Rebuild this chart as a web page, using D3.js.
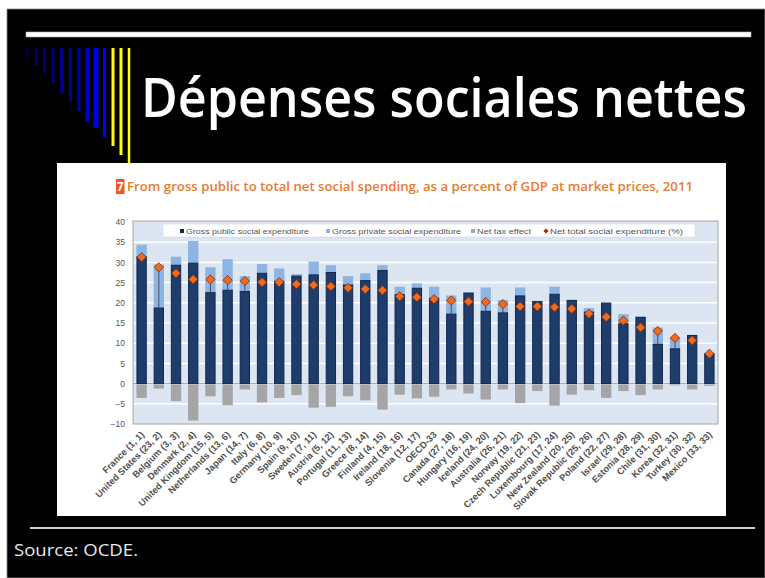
<!DOCTYPE html>
<html>
<head>
<meta charset="utf-8">
<script src="https://cdn.jsdelivr.net/npm/d3@7"></script>
<style>
  body { margin: 0; background: #fff; }
  svg { display: block; }
</style>
</head>
<body>
<svg id="slide"></svg>
<script>
// chart values (% of GDP, 2011)
const categories = [
    "France (1, 1)", "United States (23, 2)", "Belgium (3, 3)", "Denmark (2, 4)",
    "United Kingdom (15, 5)", "Netherlands (13, 6)", "Japan (14, 7)", "Italy (6, 8)",
    "Germany (10, 9)", "Spain (9, 10)", "Sweden (7, 11)", "Austria (5, 12)",
    "Portugal (11, 13)", "Greece (8, 14)", "Finland (4, 15)", "Ireland (18, 16)",
    "Slovenia (12, 17)", "OECD-33", "Canada (27, 18)", "Hungary (16, 19)",
    "Iceland (24, 20)", "Australia (26, 21)", "Norway (19, 22)", "Czech Republic (21, 23)",
    "Luxembourg (17, 24)", "New Zealand (20, 25)", "Slovak Republic (25, 26)", "Poland (22, 27)",
    "Israel (29, 28)", "Estonia (28, 29)", "Chile (31, 30)", "Korea (32, 31)",
    "Turkey (30, 32)", "Mexico (33, 33)"
];
const grossPublic = [31.4, 18.7, 29.3, 29.8, 22.5, 23.1, 22.8, 27.3, 25.3, 26.6, 26.9, 27.5,
    24.4, 25.5, 28.0, 22.0, 23.6, 21.1, 17.2, 22.4, 17.9, 17.5, 21.7, 20.3,
    22.1, 20.6, 17.7, 19.9, 14.8, 16.4, 9.7, 8.6, 11.9, 7.4];
const grossPrivate = [3.0, 10.8, 2.1, 5.5, 6.3, 7.7, 3.8, 2.3, 3.2, 0.5, 3.3, 1.8,
    2.2, 1.8, 1.3, 2.0, 1.2, 2.9, 4.6, 0.2, 5.9, 3.2, 2.1, 0.2,
    1.9, 0.1, 1.0, 0.2, 2.4, 0.2, 4.2, 2.9, 0.2, 0.2];
const netTax = [-3.3, -1.0, -4.1, -8.9, -2.9, -5.1, -1.2, -4.4, -3.3, -2.6, -5.7, -5.5,
    -2.9, -3.9, -6.2, -2.5, -3.4, -3.0, -1.2, -2.2, -3.7, -1.2, -4.6, -1.6,
    -5.2, -2.5, -1.4, -3.3, -1.6, -2.6, -1.2, -0.2, -1.2, -0.3];
const netTotal = [31.3, 28.8, 27.3, 25.8, 25.8, 25.6, 25.4, 25.1, 25.1, 24.6, 24.4, 24.1,
    23.7, 23.4, 23.1, 21.6, 21.4, 20.9, 20.6, 20.3, 20.2, 19.7, 19.1, 19.1,
    18.9, 18.5, 17.3, 16.5, 15.6, 13.9, 13.0, 11.3, 10.7, 7.4];
const yTicks = [-10, -5, 0, 5, 10, 15, 20, 25, 30, 35, 40];
const legendLabels = ["Gross public social expenditure", "Gross private social expenditure",
    "Net tax effect", "Net total social expenditure (%)"];

const colors = {
    pub: "#1e3c6c",
    pubEdge: "#12274a",
    priv: "#8db4e2",
    tax: "#a5a5a5",
    net: "#f26a1b",
    netEdge: "#8a3210",
    plotBg: "#dce6f2"
};

const W = 765, H = 578;
const svg = d3.select("#slide").attr("width", W).attr("height", H);

// slide background
svg.append("rect").attr("width", W).attr("height", H).attr("fill", "#fff");
svg.append("rect").attr("x", 7).attr("y", 9).attr("width", W - 7).attr("height", H - 9)
    .attr("fill", "#000").attr("stroke", "#8c8c8c").attr("stroke-width", 0.8);

svg.append("rect").attr("x", 26).attr("y", 32).attr("width", 725).attr("height", 5)
    .attr("fill", "#fff").attr("stroke", "#b0b0b0").attr("stroke-width", 0.6);

// decorative comb of blue / yellow lines
const deco = [
    [27.5, 2, 57, "#00005e"], [36, 2.5, 66, "#000068"], [44.5, 2.5, 73, "#000074"],
    [53, 2.5, 83, "#00007e"], [62, 4, 93, "#00008c"], [70.5, 3, 101, "#00009c"],
    [79, 3, 111, "#0000b4"], [87.5, 4, 121, "#0000cc"], [96, 5, 128, "#0000e4"],
    [104.5, 3, 137, "#0000ff"], [113, 3, 146, "#ffff00"], [121, 3, 155, "#ffff00"],
    [129, 2.5, 163, "#ffff00"]
];
svg.append("g").selectAll("line").data(deco).enter().append("line")
    .attr("x1", d => d[0]).attr("x2", d => d[0])
    .attr("y1", 48).attr("y2", d => d[2])
    .attr("stroke", d => d[3]).attr("stroke-width", d => d[1]);

// slide title, squeezed horizontally to the narrow look of the original
const title = svg.append("text")
    .attr("x", 0).attr("y", 0)
    .style("font-family", "'Open Sans', sans-serif").style("font-size", "54px")
    .style("font-weight", 600).attr("fill", "#fff")
    .text("Dépenses sociales nettes");
const natural = title.node().getComputedTextLength();
title.attr("transform", `translate(141,117) scale(${606 / natural},1)`);

// white panel holding the chart
svg.append("rect").attr("x", 57).attr("y", 163).attr("width", 669).attr("height", 353)
    .attr("fill", "#fff");

svg.append("line").attr("x1", 30).attr("x2", 755).attr("y1", 528).attr("y2", 528)
    .attr("stroke", "#cfcfcf").attr("stroke-width", 2);

svg.append("text")
    .attr("x", 14).attr("y", 556)
    .attr("textLength", 124).attr("lengthAdjust", "spacingAndGlyphs")
    .style("font-family", "'Open Sans', sans-serif").style("font-size", "16px")
    .attr("fill", "#e3e9f0")
    .text("Source: OCDE.");

// chart heading
svg.append("rect").attr("x", 116).attr("y", 179).attr("width", 8.5).attr("height", 15)
    .attr("fill", "#f0561e");
svg.append("text").attr("x", 120.2).attr("y", 191).attr("text-anchor", "middle")
    .style("font-family", "'Open Sans', sans-serif").style("font-size", "12px")
    .style("font-weight", 700).attr("fill", "#fff").text("7");
svg.append("text")
    .attr("x", 127).attr("y", 191)
    .attr("textLength", 566).attr("lengthAdjust", "spacingAndGlyphs")
    .style("font-family", "'Open Sans', sans-serif").style("font-size", "13px")
    .style("font-weight", 600).attr("fill", "#ea7a30")
    .text("From gross public to total net social spending, as a percent of GDP at market prices, 2011");

// plot
const plot = { left: 133, right: 718, top: 221, bottom: 424 };

const x = d3.scaleBand()
    .domain(categories)
    .range([plot.left, plot.right])
    .paddingInner(0.4)
    .paddingOuter(0.2);

const y = d3.scaleLinear()
    .domain([-10, 40])
    .range([plot.bottom, plot.top + 1]);

const chart = svg.append("g");

chart.append("rect")
    .attr("x", plot.left).attr("y", plot.top)
    .attr("width", plot.right - plot.left).attr("height", plot.bottom - plot.top)
    .attr("fill", colors.plotBg).attr("stroke", "#a6a6a6").attr("stroke-width", 1);

chart.append("g").selectAll("line").data(yTicks.filter(t => t > -10 && t < 40)).enter()
    .append("line")
    .attr("x1", plot.left + 1).attr("x2", plot.right - 1)
    .attr("y1", d => y(d)).attr("y2", d => y(d))
    .attr("stroke", "#fff").attr("stroke-width", 1.5);

const yAxis = chart.append("g")
    .attr("transform", `translate(${plot.left},0)`)
    .call(d3.axisLeft(y).tickValues(yTicks).tickSize(0).tickPadding(8));
yAxis.select(".domain").remove();
yAxis.selectAll("text")
    .style("font-family", "'Liberation Sans', Arial, sans-serif")
    .style("font-size", "8.5px").attr("fill", "#555");

// legend
const legendX = [182, 328, 473, 546];
const legendW = [123, 129, 54, 133];
chart.append("rect").attr("x", 163).attr("y", 224).attr("width", 532).attr("height", 13)
    .attr("fill", "#fff").attr("stroke", "#d0d8e4").attr("stroke-width", 0.6);
const legend = chart.append("g").selectAll("g").data(legendLabels).enter().append("g")
    .attr("transform", (d, i) => `translate(${legendX[i]},231)`);
legend.each(function (d, i) {
    const g = d3.select(this);
    if (i === 3) {
        g.append("path").attr("d", "M0,-2.6L2.6,0L0,2.6L-2.6,0Z").attr("fill", "#a52a0a");
    } else {
        g.append("rect").attr("x", -2).attr("y", -2).attr("width", 4).attr("height", 4)
            .attr("fill", [colors.pubEdge, colors.priv, colors.tax][i]);
    }
});
legend.append("text")
    .attr("x", 4).attr("y", 2.5)
    .attr("textLength", (d, i) => legendW[i]).attr("lengthAdjust", "spacingAndGlyphs")
    .style("font-family", "'Liberation Sans', Arial, sans-serif")
    .style("font-size", "7.5px").attr("fill", "#555")
    .text(d => d);

// zero line
chart.append("line")
    .attr("x1", plot.left).attr("x2", plot.right)
    .attr("y1", y(0)).attr("y2", y(0))
    .attr("stroke", "#a6a6a6").attr("stroke-width", 1);

const rows = categories.map((c, i) => ({
    name: c, pub: grossPublic[i], priv: grossPrivate[i], tax: netTax[i], net: netTotal[i]
}));

const bw = x.bandwidth();

chart.append("g").selectAll("rect").data(rows).enter().append("rect")
    .attr("x", d => x(d.name)).attr("width", bw)
    .attr("y", d => y(d.pub + d.priv))
    .attr("height", d => y(d.pub) - y(d.pub + d.priv))
    .attr("fill", colors.priv);

chart.append("g").selectAll("rect").data(rows).enter().append("rect")
    .attr("x", d => x(d.name) + 0.5).attr("width", bw - 1)
    .attr("y", d => y(d.pub))
    .attr("height", d => y(0) - y(d.pub))
    .attr("fill", colors.pub).attr("stroke", colors.pubEdge).attr("stroke-width", 1);

chart.append("g").selectAll("rect").data(rows).enter().append("rect")
    .attr("x", d => x(d.name)).attr("width", bw)
    .attr("y", y(0) + 1)
    .attr("height", d => y(d.tax) - y(0))
    .attr("fill", colors.tax);

// thin link from net total down to the public bar
chart.append("g").selectAll("line").data(rows.filter(d => d.net > d.pub + 0.5)).enter()
    .append("line")
    .attr("x1", d => x(d.name) + bw / 2).attr("x2", d => x(d.name) + bw / 2)
    .attr("y1", d => y(d.net)).attr("y2", d => y(d.pub))
    .attr("stroke", "#3a3a3a").attr("stroke-width", 0.8);

// net total markers: square diamonds
chart.append("g").selectAll("path").data(rows).enter().append("path")
    .attr("d", "M0,-4.6L4.6,0L0,4.6L-4.6,0Z")
    .attr("transform", d => `translate(${x(d.name) + bw / 2},${y(d.net)})`)
    .attr("fill", colors.net).attr("stroke", colors.netEdge).attr("stroke-width", 0.9);

// category labels, slanted
chart.append("g").selectAll("text").data(categories).enter().append("text")
    .attr("transform", d => `translate(${x(d) + bw / 2 + 1},${plot.bottom + 9}) rotate(-45)`)
    .attr("text-anchor", "end").attr("dy", "0.35em")
    .style("font-family", "'Liberation Sans', Arial, sans-serif")
    .style("font-size", "9.3px").style("font-weight", 700).attr("fill", "#505050")
    .text(d => d);
</script>
</body>
</html>
